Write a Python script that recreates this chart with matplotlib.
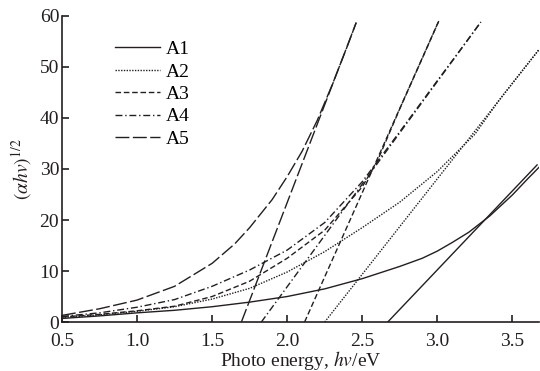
import matplotlib
matplotlib.use("Agg")
import matplotlib.pyplot as plt

plt.rcParams['font.family'] = ['Liberation Serif', 'DejaVu Serif']
plt.rcParams['mathtext.fontset'] = 'stix'

ink = '#231f20'

# Tauc curves, values
x_a1 = [0.5, 0.75, 1.0, 1.25, 1.5, 1.75, 2.0, 2.25, 2.5, 2.75, 2.9, 3.0, 3.1, 3.21, 3.35, 3.5, 3.6, 3.68]
y_a1 = [0.7, 1.2, 1.8, 2.3, 3.0, 3.9, 5.0, 6.5, 8.5, 10.9, 12.5, 13.9, 15.6, 17.6, 20.8, 24.9, 28.0, 30.4]

x_a2 = [0.5, 0.75, 1.0, 1.25, 1.5, 1.75, 2.0, 2.25, 2.5, 2.75, 3.0, 3.25, 3.41, 3.5, 3.68]
y_a2 = [0.9, 1.4, 2.1, 3.0, 4.5, 6.6, 9.8, 13.8, 18.5, 23.5, 29.5, 36.8, 43.4, 46.8, 53.5]

x_a3 = [0.5, 0.75, 1.0, 1.25, 1.5, 1.75, 2.0, 2.25, 2.5, 2.6, 2.75, 2.9, 3.01]
y_a3 = [1.0, 1.5, 2.2, 3.1, 5.0, 8.0, 12.5, 18.0, 26.5, 31.5, 41.8, 51.7, 59.0]

x_a4 = [0.5, 0.75, 1.0, 1.25, 1.5, 1.75, 2.0, 2.25, 2.5, 2.75, 3.0, 3.15, 3.29]
y_a4 = [1.1, 1.8, 2.9, 4.4, 7.0, 10.2, 14.1, 19.5, 27.5, 37.3, 47.3, 53.2, 58.8]

x_a5 = [0.5, 0.75, 1.0, 1.25, 1.5, 1.65, 1.75, 1.9, 2.0, 2.1, 2.2, 2.3, 2.4, 2.46]
y_a5 = [1.3, 2.6, 4.3, 7.0, 11.5, 15.3, 18.5, 24.0, 28.5, 33.5, 39.5, 46.5, 54.0, 58.7]

# tangent lines (start on the x axis, end at the top of each curve)
tan_x = {'A1': [2.67, 3.665], 'A2': [2.25, 3.68], 'A3': [2.116, 3.01],
         'A4': [1.828, 3.29], 'A5': [1.695, 2.46]}
tan_y = {'A1': [0, 30.8], 'A2': [0, 53.5], 'A3': [0, 59.0],
         'A4': [0, 58.8], 'A5': [0, 58.7]}

labels = ['A1', 'A2', 'A3', 'A4', 'A5']
curves = [(x_a1, y_a1), (x_a2, y_a2), (x_a3, y_a3), (x_a4, y_a4), (x_a5, y_a5)]
styles = ['-', (0, (1, 1)), (0, (4, 2)), (0, (5, 2, 1, 2)), (0, (10, 2.5))]

fig = plt.figure(figsize=(5.4, 3.71), dpi=100)
ax = fig.add_axes([0.1148, 0.132, 0.884, 0.825])

for lab, (xs, ys), ls in zip(labels, curves, styles):
    ax.plot(xs, ys, color=ink, lw=1.0, ls=ls, label=lab)
    ax.plot(tan_x[lab], tan_y[lab], color=ink, lw=1.0, ls=ls)

ax.set_xlim(0.5, 3.68)
ax.set_ylim(0, 60)
ax.set_xticks([0.5, 1.0, 1.5, 2.0, 2.5, 3.0, 3.5])
ax.set_xticklabels(['0.5', '1.0', '1.5', '2.0', '2.5', '3.0', '3.5'])
ax.set_yticks([0, 10, 20, 30, 40, 50, 60])

for s in ['top', 'right']:
    ax.spines[s].set_visible(False)
for s in ['left', 'bottom']:
    ax.spines[s].set_color(ink)
    ax.spines[s].set_linewidth(1.2)
ax.tick_params(direction='in', length=5, width=1.2, colors=ink, labelsize=14)
ax.tick_params(axis='x', pad=8)
ax.tick_params(axis='y', pad=2)

ax.set_xlabel(r'Photo energy, $hv$/eV', fontsize=14, color=ink, labelpad=-1)
ax.set_ylabel(r'$(\alpha hv)^{1/2}$', fontsize=14, color=ink, labelpad=4)

ax.legend(loc='upper left', bbox_to_anchor=(0.112, 0.92), frameon=False,
          fontsize=14, handlelength=2.3, handletextpad=0.3, labelspacing=0.25,
          borderpad=0, borderaxespad=0)

fig.savefig('out.png', dpi=100)
